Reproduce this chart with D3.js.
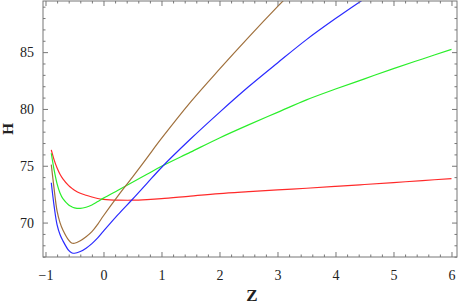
<!DOCTYPE html>
<html>
<head>
<meta charset="utf-8">
<script src="https://cdn.jsdelivr.net/npm/d3@7"></script>
<style>
  body { margin: 0; background: #fff; }
  svg { display: block; }
  text { font-family: "Liberation Serif", "DejaVu Serif", serif; fill: #222; }
</style>
</head>
<body>
<div id="chart"></div>
<script>
// values
var zVals = [-0.9, -0.85, -0.8, -0.75, -0.7, -0.6, -0.55, -0.5, -0.4, -0.3, -0.2, -0.1, 0,
             0.25, 0.5, 0.75, 1, 1.5, 2, 2.5, 3, 3.5, 4, 4.5, 5, 5.5, 6];

var redH   = [76.4, 75.5, 74.8, 74.25, 73.85, 73.25, 73.03, 72.85, 72.58, 72.4, 72.25, 72.12, 72.05,
              71.98, 71.97, 72.02, 72.1, 72.33, 72.55, 72.72, 72.88, 73.02, 73.18, 73.35, 73.52, 73.7, 73.86];
var greenH = [76.1, 74.6, 73.4, 72.6, 72.1, 71.55, 71.4, 71.3, 71.25, 71.35, 71.55, 71.85, 72.15,
              72.85, 73.55, 74.25, 74.95, 76.2, 77.45, 78.6, 79.7, 80.8, 81.75, 82.65, 83.55, 84.4, 85.24];
var brownH = [75.1, 72.9, 71.0, 70.0, 69.35, 68.45, 68.2, 68.18, 68.4, 68.75, 69.2, 69.85, 70.6,
              72.35, 74.0, 75.7, 77.4, 80.6, 83.5, 86.3, 89.0, 91.6, 94.1, 96.5, 98.8, 101, 103];
var blueH  = [73.5, 71.4, 69.8, 68.95, 68.4, 67.55, 67.35, 67.3, 67.45, 67.75, 68.15, 68.65, 69.25,
              70.7, 72.05, 73.45, 74.85, 77.35, 79.7, 81.95, 84.05, 86.1, 87.95, 89.7, 91.4, 93, 94.6];

var seriesNames = ['red', 'green', 'brown', 'blue'];
var seriesColors = ['#ff2a2a', '#2aee2a', '#a0703c', '#2a2aff'];
var seriesValues = [redH, greenH, brownH, blueH];

var xTicks = [-1, 0, 1, 2, 3, 4, 5, 6];
var yTicks = [70, 75, 80, 85];

var W = 460, H = 304;
var mLeft = 43, mRight = 457, mTop = 1, mBottom = 257;

var svg = d3.select('#chart').append('svg').attr('width', W).attr('height', H);

var x = d3.scaleLinear().domain([-1.043, 6.095]).range([mLeft, mRight]);
var y = d3.scaleLinear().domain([66.97, 89.5]).range([mBottom, mTop]);

svg.append('clipPath').attr('id', 'clip')
  .append('rect').attr('x', mLeft).attr('y', mTop)
  .attr('width', mRight - mLeft).attr('height', mBottom - mTop);

// curves
var line = d3.line()
  .x(function(d) { return x(d[0]); })
  .y(function(d) { return y(d[1]); })
  .curve(d3.curveCatmullRom.alpha(0.5));

var g = svg.append('g').attr('clip-path', 'url(#clip)');
seriesValues.forEach(function(vals, i) {
  var pts = zVals.map(function(z, j) { return [z, vals[j]]; });
  g.append('path').datum(pts)
    .attr('class', 'curve-' + seriesNames[i])
    .attr('d', line)
    .attr('fill', 'none')
    .attr('stroke', seriesColors[i])
    .attr('stroke-width', 1.2);
});

// frame with inward ticks on all four sides
var frameColor = '#777';
var xMinor = d3.range(-1, 6.01, 0.2).filter(function(v) { return Math.abs(v - Math.round(v)) > 1e-6; });
var yMinor = d3.range(67, 89.5, 1).filter(function(v) { return v % 5 !== 0; });

svg.append('g').attr('transform', 'translate(0,' + mBottom + ')')
  .call(d3.axisBottom(x).tickValues(xTicks).tickSize(-5).tickPadding(13)
    .tickFormat(function(d) { return d < 0 ? '\u2212' + (-d) : d; }));
svg.append('g').attr('transform', 'translate(0,' + mBottom + ')')
  .call(d3.axisBottom(x).tickValues(xMinor).tickSize(-2.5).tickFormat(''));
svg.append('g').attr('transform', 'translate(0,' + mTop + ')')
  .call(d3.axisTop(x).tickValues(xTicks).tickSize(-5).tickFormat(''));
svg.append('g').attr('transform', 'translate(0,' + mTop + ')')
  .call(d3.axisTop(x).tickValues(xMinor).tickSize(-2.5).tickFormat(''));

svg.append('g').attr('transform', 'translate(' + mLeft + ',0)')
  .call(d3.axisLeft(y).tickValues(yTicks).tickSize(-5).tickPadding(9));
svg.append('g').attr('transform', 'translate(' + mLeft + ',0)')
  .call(d3.axisLeft(y).tickValues(yMinor).tickSize(-2.5).tickFormat(''));
svg.append('g').attr('transform', 'translate(' + mRight + ',0)')
  .call(d3.axisRight(y).tickValues(yTicks).tickSize(-5).tickFormat(''));
svg.append('g').attr('transform', 'translate(' + mRight + ',0)')
  .call(d3.axisRight(y).tickValues(yMinor).tickSize(-2.5).tickFormat(''));

svg.selectAll('.domain').remove();
svg.selectAll('.tick line').attr('stroke', frameColor);
svg.selectAll('g').attr('font-family', '"Liberation Serif", serif').attr('font-size', 14);
svg.selectAll('.tick text')
  .style('font-family', '"Liberation Serif", serif')
  .style('font-size', '14px')
  .attr('fill', '#222');

svg.append('rect')
  .attr('x', mLeft).attr('y', mTop)
  .attr('width', mRight - mLeft).attr('height', mBottom - mTop)
  .attr('fill', 'none').attr('stroke', frameColor).attr('stroke-width', 1);

// axis labels
svg.append('text')
  .attr('x', (mLeft + mRight) / 2 + 2).attr('y', 301)
  .attr('text-anchor', 'middle')
  .style('font-size', '17px').style('font-weight', 'bold')
  .text('Z');

svg.append('text')
  .attr('transform', 'translate(13,' + ((mTop + mBottom) / 2) + ') rotate(-90)')
  .attr('text-anchor', 'middle')
  .style('font-size', '15px').style('font-weight', 'bold')
  .text('H');
</script>
</body>
</html>
